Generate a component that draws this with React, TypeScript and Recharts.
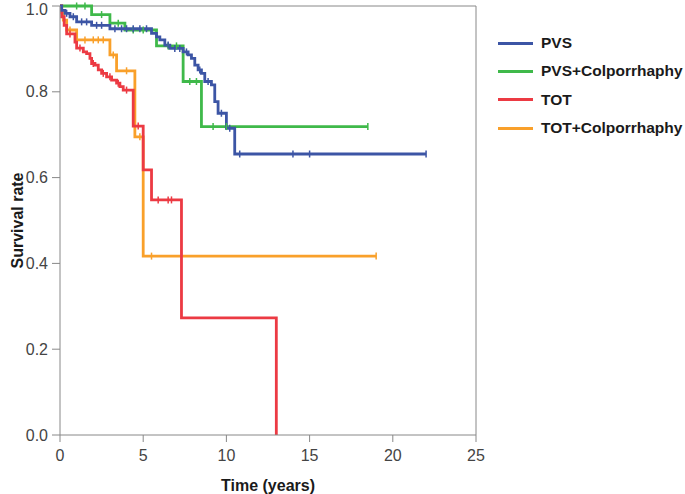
import { ComposedChart, Line, Scatter, XAxis, YAxis, ReferenceLine } from "recharts";

// Kaplan-Meier steps: drop times (years) and survival after each drop
const pvsTime = [0, 0.1, 0.3, 0.6, 1.0, 1.9, 3.0, 5.5, 5.8, 6.0, 6.3, 6.6, 7.4, 7.7, 7.9, 8.1, 8.3, 8.5, 8.7, 9.1, 9.3, 9.5, 10.0, 10.5];
const pvsSurv = [1, 0.99, 0.983, 0.975, 0.963, 0.955, 0.947, 0.936, 0.928, 0.921, 0.909, 0.901, 0.893, 0.886, 0.878, 0.862, 0.851, 0.843, 0.824, 0.816, 0.777, 0.75, 0.715, 0.655];
const pvsCensor = [0.4, 0.8, 1.3, 1.6, 2.2, 2.5, 3.3, 3.7, 4.0, 4.4, 4.8, 5.2, 6.5, 6.9, 7.2, 7.6, 8.4, 8.9, 9.7, 10.2, 10.8, 14.0, 15.0, 22.0];
const pvsEnd = 22;

const pvsColTime = [0, 1.9, 3.0, 3.9, 5.8, 7.4, 8.5];
const pvsColSurv = [1, 0.98, 0.96, 0.944, 0.907, 0.824, 0.719];
const pvsColCensor = [1.0, 1.5, 2.5, 3.5, 4.4, 5.0, 6.5, 7.0, 7.8, 8.2, 9.2, 10.0, 18.5];
const pvsColEnd = 18.5;

const totTime = [0, 0.1, 0.25, 0.4, 0.9, 1.0, 1.4, 1.6, 1.8, 1.9, 2.1, 2.3, 2.5, 2.8, 3.1, 3.4, 3.6, 3.8, 4.4, 5.0, 5.5, 7.3, 13.0];
const totSurv = [1, 0.975, 0.955, 0.935, 0.916, 0.902, 0.893, 0.889, 0.878, 0.866, 0.862, 0.851, 0.843, 0.835, 0.827, 0.82, 0.812, 0.804, 0.72, 0.618, 0.548, 0.273, 0];
const totCensor = [0.6, 1.2, 2.0, 2.6, 3.0, 3.5, 4.0, 4.7, 5.9, 6.5, 6.7];
const totEnd = 13.0;

const totColTime = [0, 0.1, 0.2, 0.4, 1.0, 3.0, 3.4, 4.5, 5.0];
const totColSurv = [1, 0.985, 0.967, 0.944, 0.921, 0.886, 0.849, 0.695, 0.417];
const totColCensor = [0.6, 1.5, 2.0, 2.3, 2.6, 3.2, 4.0, 4.8, 5.5, 19.0];
const totColEnd = 19.0;

const xTicks = [0, 5, 10, 15, 20, 25];
const yTicks = [0, 0.2, 0.4, 0.6, 0.8, 1.0];

const toSteps = (times: number[], surv: number[], end: number) => [
  ...times.map((t, i) => ({ t, s: surv[i] })),
  { t: end, s: surv[surv.length - 1] },
];

const survAt = (times: number[], surv: number[], t: number) => {
  let s = surv[0];
  times.forEach((tt, i) => {
    if (tt <= t) s = surv[i];
  });
  return s;
};

const toCensor = (times: number[], surv: number[], cens: number[]) =>
  cens.map((t) => ({ t, s: survAt(times, surv, t) }));

const series = [
  { name: "PVS", color: "#3c55a5", steps: toSteps(pvsTime, pvsSurv, pvsEnd), cens: toCensor(pvsTime, pvsSurv, pvsCensor) },
  { name: "PVS+Colporrhaphy", color: "#3fb94a", steps: toSteps(pvsColTime, pvsColSurv, pvsColEnd), cens: toCensor(pvsColTime, pvsColSurv, pvsColCensor) },
  { name: "TOT", color: "#ec3a43", steps: toSteps(totTime, totSurv, totEnd), cens: toCensor(totTime, totSurv, totCensor) },
  { name: "TOT+Colporrhaphy", color: "#f9a02a", steps: toSteps(totColTime, totColSurv, totColEnd), cens: toCensor(totColTime, totColSurv, totColCensor) },
];

// draw order: green, orange, red, blue on top
const drawOrder = [1, 3, 2, 0];

const tick = (color: string) => (props: any) => (
  <line x1={props.cx} x2={props.cx} y1={props.cy - 3.5} y2={props.cy + 3.5} stroke={color} strokeWidth={1.5} />
);

const font = "'Liberation Sans', Arial, sans-serif";

const LegendBox = () => (
  <div style={{ position: "absolute", left: 498, top: 29, fontFamily: font, fontWeight: 700, fontSize: 15.5, color: "#1a1a1a" }}>
    {series.map((s) => (
      <div key={s.name} style={{ display: "flex", alignItems: "center", height: 28.3, whiteSpace: "nowrap" }}>
        <span style={{ display: "inline-block", width: 35, height: 3, background: s.color, marginRight: 8 }} />
        <span>{s.name}</span>
      </div>
    ))}
  </div>
);

export default function App() {
  return (
    <div style={{ position: "absolute", left: 0, top: 0, width: 685, height: 494 }}>
      <ComposedChart width={685} height={494} margin={{ top: 6, right: 209, bottom: 0, left: 0 }}>
        <XAxis
          dataKey="t"
          type="number"
          domain={[0, 25]}
          ticks={xTicks}
          allowDataOverflow
          stroke="#888"
          tickSize={7}
          tickMargin={8}
          height={59}
          tick={{ fill: "#444", fontSize: 16, fontFamily: font }}
          label={{ value: "Time (years)", position: "insideBottom", offset: 3, fill: "#1a1a1a", fontSize: 16, fontWeight: 700, fontFamily: font }}
        />
        <YAxis
          dataKey="s"
          type="number"
          domain={[0, 1]}
          ticks={yTicks}
          tickFormatter={(v: number) => v.toFixed(1)}
          stroke="#888"
          width={60}
          tickSize={8}
          tickMargin={4}
          tick={{ fill: "#444", fontSize: 16, fontFamily: font }}
          label={{ value: "Survival rate", angle: -90, position: "center", dx: -13, fill: "#1a1a1a", fontSize: 16, fontWeight: 700, fontFamily: font }}
        />
        <ReferenceLine y={1} stroke="#888" />
        <ReferenceLine x={25} stroke="#888" />
        {drawOrder.map((i) => (
          <Line
            key={series[i].name}
            data={series[i].steps}
            dataKey="s"
            type="stepAfter"
            stroke={series[i].color}
            strokeWidth={2.8}
            dot={false}
            activeDot={false}
            isAnimationActive={false}
            legendType="none"
          />
        ))}
        {drawOrder.map((i) => (
          <Scatter
            key={series[i].name + "-c"}
            data={series[i].cens}
            dataKey="s"
            shape={tick(series[i].color)}
            isAnimationActive={false}
            legendType="none"
          />
        ))}
      </ComposedChart>
      <LegendBox />
    </div>
  );
}
